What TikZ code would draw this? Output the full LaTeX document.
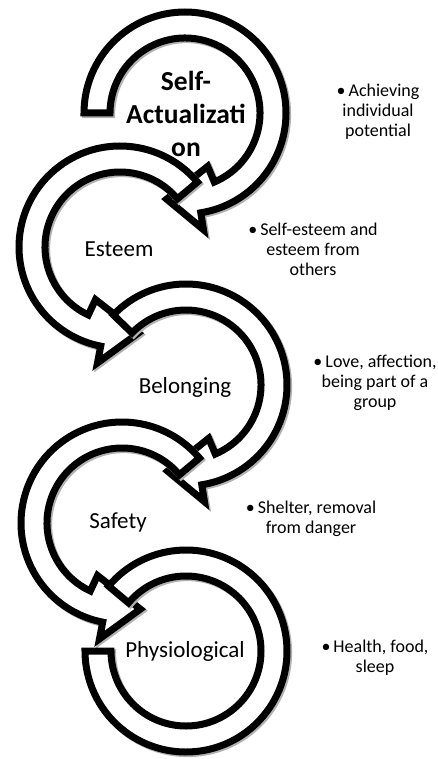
\documentclass[tikz,border=0pt]{standalone}
\usepackage{fontspec}
\setmainfont{Carlito}
% ring with arrow head: #1 tail angle, #2 outer end, #3 inner end, #4 tip
\newcommand\ringArrow[4]{%
  \draw[band] (#1:101pt) arc[start angle=#1,end angle=#2,radius=101pt]
    -- (#2:118pt) -- (#4:88pt) -- (#3:58pt) -- (#3:75pt)
    arc[start angle=#3,end angle=#1,radius=75pt] -- cycle;}
\begin{document}
\begin{tikzpicture}[x=1pt,y=1pt,
  band/.style={draw=black, fill=white, line width=7pt, line join=miter, miter limit=4,
    preaction={draw=black!30, line width=7pt, transform canvas={shift={(1.6pt,-1.6pt)}}}},
  lbl/.style={font=\fontsize{23}{27}\selectfont, align=center, inner sep=0pt},
  toplbl/.style={font=\fontsize{27.5}{33}\selectfont\bfseries, align=center, inner sep=0pt},
  note/.style={font=\fontsize{18}{20}\selectfont, align=center, inner sep=0pt}]
\useasboundingbox (0,0) rectangle (438,-759);
\fill[white] (0,0) rectangle (438,-759);

% Self-Actualization ring (clockwise)
\begin{scope}[shift={(185,-113)}]
  \ringArrow{180}{-81}{-67}{-102}
\end{scope}
% Esteem ring (counter-clockwise)
\begin{scope}[shift={(120,-247)}]
  \ringArrow{40}{259}{245}{282}
\end{scope}
% Belonging ring (clockwise)
\begin{scope}[shift={(186,-385)}]
  \ringArrow{136}{-81}{-67}{-102}
\end{scope}
% Safety ring (counter-clockwise)
\begin{scope}[shift={(122,-523)}]
  \ringArrow{40}{259}{245}{282}
\end{scope}
% Physiological ring
\begin{scope}[shift={(186,-651)}]
  \draw[band] (140:101pt) arc[start angle=140,end angle=-180,radius=101pt]
    -- (-180:75pt) arc[start angle=-180,end angle=140,radius=75pt] -- cycle;
\end{scope}

\node[toplbl] (sa) at (186,-114) {Self-\\Actualizati\\on};
\node[lbl] (es) at (119,-249) {Esteem};
\node[lbl] (be) at (185,-387) {Belonging};
\node[lbl] (sf) at (118,-522) {Safety};
\node[lbl] (ph) at (185,-651) {Physiological};

\node[note] (n1) at (378,-112) {•\,Achieving\\individual\\potential};
\node[note] (n2) at (313,-249) {•\,Self-esteem and\\esteem from\\others};
\node[note] (n3) at (375,-383) {•\,Love, affection,\\being part of a\\group};
\node[note] (n4) at (311,-519) {•\,Shelter, removal\\from danger};
\node[note] (n5) at (375,-658) {•\,Health, food,\\sleep};
\end{tikzpicture}
\end{document}
